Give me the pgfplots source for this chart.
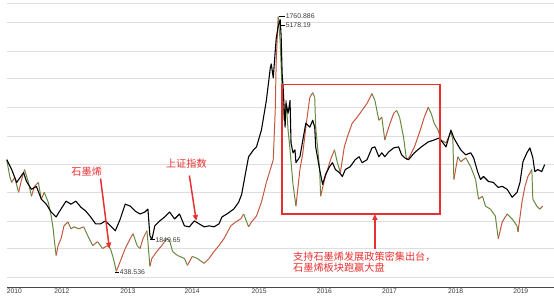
\documentclass[border=0pt]{standalone}
\usepackage{pgfplots}
\pgfplotsset{compat=1.18}
\usetikzlibrary{arrows.meta}
\usepackage{fontspec}
\setmainfont{Liberation Sans}
\newfontfamily\cjk{Noto Sans CJK SC}
\definecolor{gridc}{RGB}{222,222,222}
\definecolor{axc}{RGB}{70,70,70}
\definecolor{annred}{RGB}{232,48,48}
\definecolor{lblc}{RGB}{60,60,60}

\pgfplotstableread{
x y c
0 139 0
3 122 0
5 116 1
8 121 0
12 106 1
15 119 1
18 129 0
22 116 0
25 102 1
28 112 1
32 116 0
35 99 1
38 106 0
42 96 0
45 82 0
47 69 0
48 59 0
50 42 1
52 52 1
55 59 1
58 72 1
62 76 0
65 69 1
68 71 0
73 69 1
78 71 0
82 62 0
87 52 1
92 56 0
97 49 1
102 52 0
105 49 0
108 39 0
111 26 1
115 36 1
120 49 1
125 59 1
128 64 0
132 52 0
135 49 1
138 59 1
142 67 0
143 56 0
145 31 1
147 39 1
152 46 1
157 52 1
162 59 0
165 57 0
168 46 0
173 42 0
180 39 0
183 32 1
188 41 0
193 39 0
200 34 1
205 39 1
210 46 1
215 52 1
220 59 1
227 72 1
232 76 1
237 79 1
240 84 0
245 71 1
248 76 1
253 82 1
258 96 1
263 116 1
267 129 1
270 139 1
272 189 1
273 239 1
275 284 0
277 259 0
279 209 0
281 179 1
283 199 0
285 169 0
287 149 0
290 114 0
293 92 1
297 129 1
300 146 1
303 172 1
307 202 1
310 207 0
312 202 0
313 172 0
317 129 0
318 102 1
322 119 1
325 129 1
328 139 1
332 149 0
335 136 0
338 126 1
342 152 1
345 162 1
350 176 1
355 182 1
360 189 1
365 196 1
370 206 0
373 199 0
377 179 1
380 182 0
383 159 1
387 172 1
392 186 1
395 189 0
398 182 0
402 162 0
405 139 1
408 142 1
413 152 1
418 166 1
423 182 1
427 192 0
430 186 0
433 176 0
437 169 0
440 159 0
445 156 1
450 167 0
452 159 0
453 119 1
457 142 0
460 137 1
465 141 0
470 132 0
475 119 0
478 99 1
482 102 0
485 92 0
490 89 0
495 82 0
498 59 1
502 76 1
507 84 0
512 79 0
517 72 0
518 66 1
522 96 1
525 112 1
528 122 1
532 129 0
533 99 0
537 92 0
540 89 1
543 92 0
}\graphene

\pgfplotstableread{
x y
0 139
5 129
10 116
17 126
20 117
25 109
30 112
35 99
40 94
45 86
50 81
53 86
60 97
65 94
70 97
75 91
80 87
85 81
90 74
95 74
100 77
105 72
110 67
115 79
120 94
125 92
130 87
135 84
140 86
143 89
145 62
147 58
150 72
155 77
160 81
165 86
170 79
175 84
180 72
185 71
190 77
195 74
200 71
205 72
210 71
215 74
218 81
223 84
230 89
235 96
238 104
242 126
245 142
250 149
253 152
258 169
263 199
267 232
268 236
270 222
272 249
273 262
275 274
277 281
278 264
279 226
280 212
282 172
283 196
285 186
287 199
288 156
290 146
292 149
293 136
297 142
300 159
303 176
307 172
310 179
312 172
313 152
317 129
320 114
323 124
327 132
330 136
333 129
337 126
340 122
343 129
348 132
353 139
357 142
360 136
365 139
370 151
373 152
377 142
380 146
383 142
387 147
392 151
397 152
400 144
403 141
407 139
413 146
420 152
427 157
433 159
438 161
442 156
445 152
450 169
453 161
457 154
460 149
465 144
470 146
473 141
477 127
480 119
483 122
488 117
493 116
498 111
502 112
507 109
512 101
517 106
520 116
523 137
527 146
530 151
533 141
535 127
538 129
542 127
545 134
}\shindex

\begin{document}
\begin{tikzpicture}
\begin{axis}[
  scale only axis, width=554pt, height=289pt,
  xmin=0, xmax=554, ymin=10, ymax=299,
  axis line style={draw=none},
  xtick={0,48,115,180,248,314,380,447,513},
  xticklabels={2010,2012,2013,2014,2015,2016,2017,2018,2019},
  xticklabel style={anchor=north west, font=\fontsize{6.8}{8}\selectfont, text=lblc, inner xsep=0pt, inner ysep=1.6pt},
  ytick={20,49,77,106,134,163,192,221,249,278,297.5},
  yticklabels={},
  ymajorgrids, grid style={gridc, line width=0.8pt},
  major tick length=0pt,
  clip=false,
]
\draw[axc, line width=0.9pt] (axis cs:0,10) -- (axis cs:554,10);

\addplot[mesh, shader=flat corner, point meta=explicit, point meta min=0, point meta max=1,
  colormap={gc}{rgb255=(100,135,60) rgb255=(195,85,60)}, line width=1.0pt]
  table[x=x, y=y, meta=c] {\graphene};
\addplot[black, line width=1.1pt, line join=round] table[x=x, y=y] {\shindex};

% value labels
\draw[black, line width=0.5pt] (axis cs:276,284) -- (axis cs:282,284);
\node[anchor=west, inner sep=0.5pt, font=\fontsize{7}{8}\selectfont, text=lblc] at (axis cs:282,284) {1760.886};
\draw[black, line width=0.5pt] (axis cs:277,275) -- (axis cs:282,275);
\node[anchor=west, inner sep=0.5pt, font=\fontsize{7}{8}\selectfont, text=lblc] at (axis cs:282,275) {5178.19};
\draw[black, line width=0.5pt] (axis cs:145,58) -- (axis cs:150,58);
\node[anchor=west, inner sep=0.5pt, font=\fontsize{7}{8}\selectfont, text=lblc] at (axis cs:150,58) {1849.65};
\draw[black, line width=0.5pt] (axis cs:110,25) -- (axis cs:114,25);
\node[anchor=west, inner sep=0.5pt, font=\fontsize{7}{8}\selectfont, text=lblc] at (axis cs:114,25) {438.536};

% annotations
\draw[annred, line width=1.4pt] (axis cs:279,84) rectangle (axis cs:439,215);
\draw[annred, line width=1.5pt, -{Triangle[length=6pt,width=5pt]}] (axis cs:95,120) -- (axis cs:104,49);
\draw[annred, line width=1.5pt, -{Triangle[length=6pt,width=5pt]}] (axis cs:185,123) -- (axis cs:192,77);
\draw[annred, line width=1.5pt, -{Triangle[length=6pt,width=5pt]}] (axis cs:373,49) -- (axis cs:373,84);
\node[text=annred, inner sep=0pt, font=\cjk\fontsize{10.3}{12}\selectfont] at (axis cs:81,127) {石墨烯};
\node[text=annred, inner sep=0pt, font=\cjk\fontsize{10.3}{12}\selectfont] at (axis cs:182,135) {上证指数};
\node[text=annred, anchor=west, inner sep=0pt, font=\cjk\fontsize{10.3}{12}\selectfont] at (axis cs:290,41) {支持石墨烯发展政策密集出台，};
\node[text=annred, anchor=west, inner sep=0pt, font=\cjk\fontsize{10.3}{12}\selectfont] at (axis cs:290,30) {石墨烯板块跑赢大盘};
\end{axis}
\end{tikzpicture}
\end{document}
